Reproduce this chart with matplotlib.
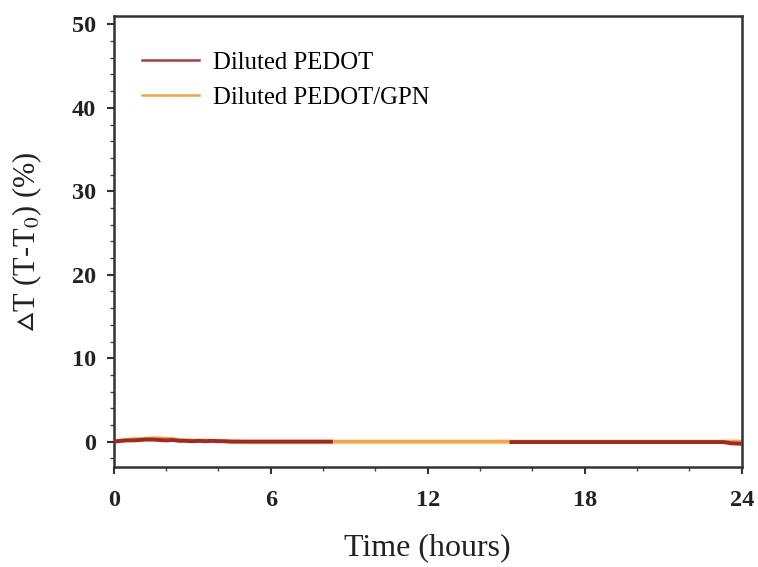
import numpy as np
import matplotlib
matplotlib.use("Agg")
import matplotlib.pyplot as plt
from matplotlib.ticker import MultipleLocator

# Data
t_pedot = [0, 0.25, 0.5, 0.75, 1.0, 1.25, 1.5, 1.75, 2.0, 2.25, 2.5, 2.75, 3.0, 3.25,
           3.5, 3.75, 4.0, 4.25, 4.5, 5.0, 6.0, 7.0, 8.0, 8.3,
           8.31, 15.1,
           15.2, 16, 18, 20, 22, 23.3, 23.6, 24.0]
v_pedot = [0.0, 0.1, 0.15, 0.15, 0.2, 0.25, 0.25, 0.2, 0.15, 0.2, 0.1, 0.1, 0.05, 0.1,
           0.05, 0.1, 0.05, 0.05, 0.0, 0.0, 0.0, 0.0, 0.0, 0.0,
           np.nan, np.nan,
           -0.05, -0.05, -0.05, -0.05, -0.05, -0.05, -0.2, -0.25]

t_gpn = [0, 0.25, 0.5, 0.75, 1.0, 1.25, 1.5, 1.75, 2.0, 2.25, 2.5, 2.75, 3.0, 3.25,
         3.5, 3.75, 4.0, 4.25, 4.5, 5.0, 6.0, 8.0, 10.0, 12.0, 14.0, 16.0, 18.0,
         20.0, 22.0, 24.0]
v_gpn = [0.0, 0.1, 0.2, 0.3, 0.3, 0.35, 0.4, 0.4, 0.35, 0.3, 0.2, 0.15, 0.15, 0.1,
         0.15, 0.1, 0.1, 0.05, 0.05, 0.0, 0.0, 0.0, 0.0, 0.0, 0.0, 0.0, 0.0,
         0.0, 0.0, 0.0]

x_ticks = [0, 6, 12, 18, 24]
y_ticks = [0, 10, 20, 30, 40, 50]

serif = ['Liberation Serif', 'DejaVu Serif']
plt.rcParams['font.family'] = serif
plt.rcParams['mathtext.fontset'] = 'stix'

fig = plt.figure(figsize=(7.58, 5.67), dpi=100)
ax = fig.add_axes([113.7 / 758, 1 - 466.7 / 567, (741.7 - 113.7) / 758, (466.7 - 16) / 567])

ax.plot(t_gpn, v_gpn, color='#f7a440', lw=2.8, zorder=2)
ax.plot(t_pedot, v_pedot, color='#a3281f', lw=2.8, zorder=3)
# legend proxies in order
h1, = ax.plot([], [], color='#a84040', lw=1.8, label='Diluted PEDOT')
h2, = ax.plot([], [], color='#f7a440', lw=1.8, label='Diluted PEDOT/GPN')

ax.set_xlim(0, 24)
ax.set_ylim(-3, 51)
ax.set_xticks(x_ticks)
ax.set_yticks(y_ticks)
ax.xaxis.set_minor_locator(MultipleLocator(2))
ax.yaxis.set_minor_locator(MultipleLocator(2))
ax.tick_params(which='major', direction='out', length=5, width=1.5, labelsize=17.5,
               colors='#333333', labelcolor='#222222')
ax.tick_params(axis='y', which='major', pad=8)
ax.tick_params(axis='x', which='major', pad=12)
ax.tick_params(which='minor', direction='out', length=3, width=1.0, colors='#444444')
for lab in ax.get_xticklabels() + ax.get_yticklabels():
    lab.set_fontweight('bold')
for s in ax.spines.values():
    s.set_linewidth(1.8)
    s.set_color('#333333')

ax.set_xlabel('Time (hours)', fontsize=23, color='#222222', labelpad=16)
ax.set_ylabel(r'$\vartriangle$T (T-T$_0$) (%)', fontsize=22, color='#222222', labelpad=20)

leg = ax.legend(handles=[h1, h2], loc='upper left', bbox_to_anchor=(0.01, 0.97),
                frameon=False, fontsize=17.8, handlelength=2.3, handletextpad=0.55,
                labelspacing=0.5)

fig.savefig('out.png', dpi=100)
